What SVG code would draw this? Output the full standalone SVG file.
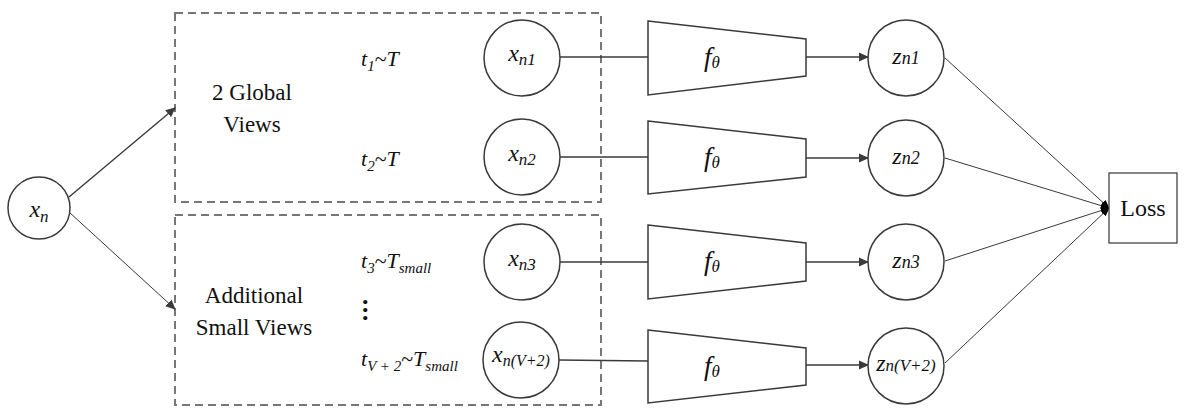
<svg xmlns="http://www.w3.org/2000/svg" width="1188" height="416" viewBox="0 0 1188 416" style="font-family:'Liberation Serif',serif">
<defs>
<style>
.node{fill:#fff;stroke:#3a3a3a;stroke-width:1.5}
.box{fill:none;stroke:#777;stroke-width:2;stroke-dasharray:8,5}
.edge{fill:none;stroke:#3a3a3a;stroke-width:1.4}
.thin{fill:none;stroke:#222;stroke-width:0.9}
</style>
<marker id="ah" viewBox="0 0 10 10" refX="9" refY="5" markerWidth="10" markerHeight="10" markerUnits="userSpaceOnUse" orient="auto">
<path d="M0,0.5 L10,5 L0,9.5 Z" fill="#3a3a3a"/>
</marker>
<marker id="ahb" viewBox="0 0 10 10" refX="9" refY="5" markerWidth="9" markerHeight="9" markerUnits="userSpaceOnUse" orient="auto">
<path d="M0,1 L10,5 L0,9 Z" fill="#000"/>
</marker>
</defs>

<g id="groups">
<rect class="box" x="175" y="13" width="426" height="189"/>
<rect class="box" x="175" y="215" width="426" height="190"/>
<text style="font-family:'Liberation Serif'" fill="#111" font-size="23" text-anchor="middle" x="252" y="100">2 Global</text>
<text style="font-family:'Liberation Serif'" fill="#111" font-size="23" text-anchor="middle" x="252" y="132">Views</text>
<text style="font-family:'Liberation Serif'" fill="#111" font-size="23" text-anchor="middle" x="254" y="303">Additional</text>
<text style="font-family:'Liberation Serif'" fill="#111" font-size="23" text-anchor="middle" x="254" y="335">Small Views</text>
</g>

<g id="transforms">
<text style="font-family:'Liberation Serif';font-style:italic" fill="#111" font-size="22" x="361" y="66">t<tspan font-size="15" dy="5">1</tspan><tspan dy="-5" style="font-style:normal">~</tspan>T</text>
<text style="font-family:'Liberation Serif';font-style:italic" fill="#111" font-size="22" x="361" y="166">t<tspan font-size="15" dy="5">2</tspan><tspan dy="-5" style="font-style:normal">~</tspan>T</text>
<text style="font-family:'Liberation Serif';font-style:italic" fill="#111" font-size="22" x="361" y="268">t<tspan font-size="15" dy="5">3</tspan><tspan dy="-5" style="font-style:normal">~</tspan>T<tspan font-size="15" dy="5">small</tspan></text>
<text style="font-family:'Liberation Serif';font-weight:bold" fill="#111" font-size="26"><tspan x="362" y="304">.</tspan><tspan x="362" y="312">.</tspan><tspan x="362" y="320">.</tspan></text>
<text style="font-family:'Liberation Serif';font-style:italic" fill="#111" font-size="22" x="361" y="366">t<tspan font-size="15" dy="5">V + 2</tspan><tspan dy="-5" style="font-style:normal">~</tspan>T<tspan font-size="15" dy="5">small</tspan></text>
</g>

<g id="connectors">
<line class="edge" x1="69" y1="197" x2="175" y2="108" marker-end="url(#ah)"/>
<line class="thin" x1="69" y1="212" x2="175" y2="309" marker-end="url(#ah)"/>
<line class="edge" x1="560" y1="57" x2="648" y2="57"/>
<line class="edge" x1="560" y1="157" x2="648" y2="157"/>
<line class="edge" x1="560" y1="262" x2="648" y2="262"/>
<line class="edge" x1="559" y1="360" x2="648" y2="361"/>
<line class="edge" x1="806" y1="57" x2="868" y2="57" marker-end="url(#ah)"/>
<line class="edge" x1="806" y1="158" x2="868" y2="158" marker-end="url(#ah)"/>
<line class="edge" x1="806" y1="262" x2="868" y2="262" marker-end="url(#ah)"/>
<line class="edge" x1="806" y1="365" x2="868" y2="365" marker-end="url(#ah)"/>
<line class="thin" x1="945" y1="58" x2="1109" y2="208" marker-end="url(#ahb)"/>
<line class="thin" x1="945" y1="158" x2="1109" y2="208" marker-end="url(#ahb)"/>
<line class="thin" x1="945" y1="261" x2="1109" y2="208" marker-end="url(#ahb)"/>
<line class="thin" x1="945" y1="363" x2="1109" y2="208" marker-end="url(#ahb)"/>
</g>

<g id="xn">
<circle class="node" cx="39" cy="208" r="31"/>
<text style="font-family:'Liberation Serif';font-style:italic" fill="#111" font-size="24" text-anchor="middle" x="39" y="217">x<tspan font-size="17" dy="5">n</tspan></text>
</g>

<g id="xn1">
<circle class="node" cx="522" cy="58" r="38"/>
<text style="font-family:'Liberation Serif';font-style:italic" fill="#111" font-size="24" text-anchor="middle" x="522" y="61">x<tspan font-size="17" dy="4">n1</tspan></text>
</g>
<g id="xn2">
<circle class="node" cx="522" cy="157" r="38"/>
<text style="font-family:'Liberation Serif';font-style:italic" fill="#111" font-size="24" text-anchor="middle" x="522" y="161">x<tspan font-size="17" dy="4">n2</tspan></text>
</g>
<g id="xn3">
<circle class="node" cx="522" cy="262" r="38"/>
<text style="font-family:'Liberation Serif';font-style:italic" fill="#111" font-size="24" text-anchor="middle" x="522" y="266">x<tspan font-size="17" dy="4">n3</tspan></text>
</g>
<g id="xnV2">
<circle class="node" cx="521" cy="360" r="38"/>
<text style="font-family:'Liberation Serif';font-style:italic" fill="#111" font-size="24" text-anchor="middle" x="521" y="362">x<tspan font-size="16" dy="4">n(V+2)</tspan></text>
</g>

<g id="f1">
<polygon class="node" points="648,21 806,39 806,76 648,95"/>
<text style="font-family:'Liberation Serif';font-style:italic" fill="#111" font-size="27" text-anchor="middle" x="712" y="66">f<tspan font-size="17" dy="2">&#952;</tspan></text>
</g>
<g id="f2">
<polygon class="node" points="648,121 806,139 806,177 648,194"/>
<text style="font-family:'Liberation Serif';font-style:italic" fill="#111" font-size="27" text-anchor="middle" x="712" y="166">f<tspan font-size="17" dy="2">&#952;</tspan></text>
</g>
<g id="f3">
<polygon class="node" points="648,225 806,243 806,281 648,299"/>
<text style="font-family:'Liberation Serif';font-style:italic" fill="#111" font-size="27" text-anchor="middle" x="712" y="270">f<tspan font-size="17" dy="2">&#952;</tspan></text>
</g>
<g id="f4">
<polygon class="node" points="648,330 806,348 806,385 648,403"/>
<text style="font-family:'Liberation Serif';font-style:italic" fill="#111" font-size="27" text-anchor="middle" x="712" y="375">f<tspan font-size="17" dy="2">&#952;</tspan></text>
</g>

<g id="zn1">
<circle class="node" cx="906" cy="58" r="38"/>
<text style="font-family:'Liberation Serif';font-style:italic" fill="#111" font-size="24" text-anchor="middle" x="906" y="64">z<tspan font-size="18">n1</tspan></text>
</g>
<g id="zn2">
<circle class="node" cx="906" cy="158" r="38"/>
<text style="font-family:'Liberation Serif';font-style:italic" fill="#111" font-size="24" text-anchor="middle" x="906" y="164">z<tspan font-size="18">n2</tspan></text>
</g>
<g id="zn3">
<circle class="node" cx="906" cy="262" r="38"/>
<text style="font-family:'Liberation Serif';font-style:italic" fill="#111" font-size="24" text-anchor="middle" x="906" y="268">z<tspan font-size="18">n3</tspan></text>
</g>
<g id="znV2">
<circle class="node" cx="906" cy="366" r="38"/>
<text style="font-family:'Liberation Serif';font-style:italic" fill="#111" font-size="24" text-anchor="middle" x="906" y="371">z<tspan font-size="17">n(V+2)</tspan></text>
</g>

<g id="loss">
<rect x="1109" y="173" width="68" height="70" fill="#fff" stroke="#444" stroke-width="1.3"/>
<text style="font-family:'Liberation Serif'" fill="#111" font-size="24" text-anchor="middle" x="1143" y="216">Loss</text>
</g>
</svg>
